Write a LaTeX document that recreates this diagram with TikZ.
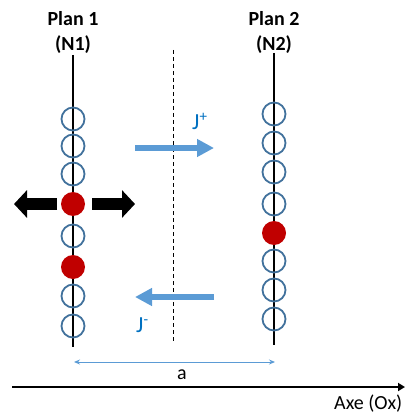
\documentclass[tikz,border=0pt]{standalone}
\usepackage{fontspec}
\setmainfont{Carlito}
\usetikzlibrary{arrows.meta}
\definecolor{ringblue}{HTML}{41719C}
\definecolor{arrowblue}{HTML}{5B9BD5}
\definecolor{textblue}{HTML}{0070C0}
\definecolor{atomred}{HTML}{C00000}
\newcommand{\jsup}[1]{\raisebox{8pt}{\fontsize{15}{15}\selectfont #1}}
\begin{document}
\begin{tikzpicture}[x=1pt,y=-1pt,
  ring/.style={circle,draw=ringblue,line width=1.8pt,minimum size=23pt,inner sep=0pt},
  atom/.style={circle,fill=atomred,minimum size=24pt,inner sep=0pt},
  title/.style={font=\bfseries\fontsize{20}{24}\selectfont,anchor=base,inner sep=0pt},
  plainlabel/.style={font=\fontsize{20}{24}\selectfont,inner sep=0pt},
  jlabel/.style={font=\fontsize{23}{26}\selectfont,text=textblue,anchor=base west,inner sep=0pt},
  column/.style={line width=2pt,black},
  pusharrow/.style={line width=12pt,black,-{Triangle[length=13pt,width=27pt]}},
  fluxarrow/.style={line width=6pt,arrowblue,-{Triangle[length=17pt,width=17pt]}},
  dimarrow/.style={line width=0.9pt,arrowblue,{Stealth[length=6pt,width=5pt]}-{Stealth[length=6pt,width=5pt]}},
  axisarrow/.style={line width=2pt,black,-{Triangle[length=7pt,width=8pt]}}]
\useasboundingbox (0,0) rectangle (404,414);

% titles
\node[title] (t1a) at (73,26) {Plan 1};
\node[title] (t1b) at (73,51) {(N1)};
\node[title] (t2a) at (274,26) {Plan 2};
\node[title] (t2b) at (274,51) {(N2)};

% column lines
\coordinate (c1top) at (73,55);
\coordinate (c1bot) at (73,347);
\coordinate (c2top) at (274,53);
\coordinate (c2bot) at (274,345);
\draw[column] (c1top) -- (c1bot);
\draw[column] (c2top) -- (c2bot);

% dashed middle line
\coordinate (dtop) at (173,50);
\coordinate (dbot) at (173,343);
\draw[line width=1pt,dash pattern=on 4pt off 3pt] (dtop) -- (dbot);

% plan 1 atoms
\node[ring] (l1) at (73,119) {};
\node[ring] (l2) at (73,146) {};
\node[ring] (l3) at (73,174) {};
\node[atom] (l4) at (73,204) {};
\node[ring] (l5) at (73,236) {};
\node[atom] (l6) at (73,267) {};
\node[ring] (l7) at (73,296) {};
\node[ring] (l8) at (73,326) {};

% plan 2 atoms
\node[ring] (r1) at (274,114) {};
\node[ring] (r2) at (274,143) {};
\node[ring] (r3) at (274,172) {};
\node[ring] (r4) at (274,204) {};
\node[atom] (r5) at (274,233) {};
\node[ring] (r6) at (274,261) {};
\node[ring] (r7) at (274,290) {};
\node[ring] (r8) at (274,319) {};

% black push arrows
\coordinate (pl) at (14,204);
\coordinate (pr) at (135,204);
\draw[pusharrow] ([xshift=-16pt]l4.center) -- (pl);
\draw[pusharrow] ([xshift=19pt]l4.center) -- (pr);

% flux arrows
\coordinate (jp1) at (135,148);
\coordinate (jp2) at (214,148);
\draw[fluxarrow] (jp1) -- (jp2);
\node[jlabel] (jplus) at (192,130) {J\jsup{+}};

\coordinate (jm1) at (214,297);
\coordinate (jm2) at (135,297);
\draw[fluxarrow] (jm1) -- (jm2);
\node[jlabel] (jminus) at (136,332) {J\jsup{-}};

% distance a
\coordinate (a1) at (74,362);
\coordinate (a2) at (275,362);
\draw[dimarrow] (a1) -- (a2);
\node[plainlabel,anchor=base] (alabel) at (182,379) {a};

% axis
\coordinate (ax1) at (12,387);
\coordinate (ax2) at (405,387);
\draw[axisarrow] (ax1) -- (ax2);
\node[plainlabel,anchor=base west] (axlabel) at (334,409) {Axe (Ox)};
\end{tikzpicture}
\end{document}
